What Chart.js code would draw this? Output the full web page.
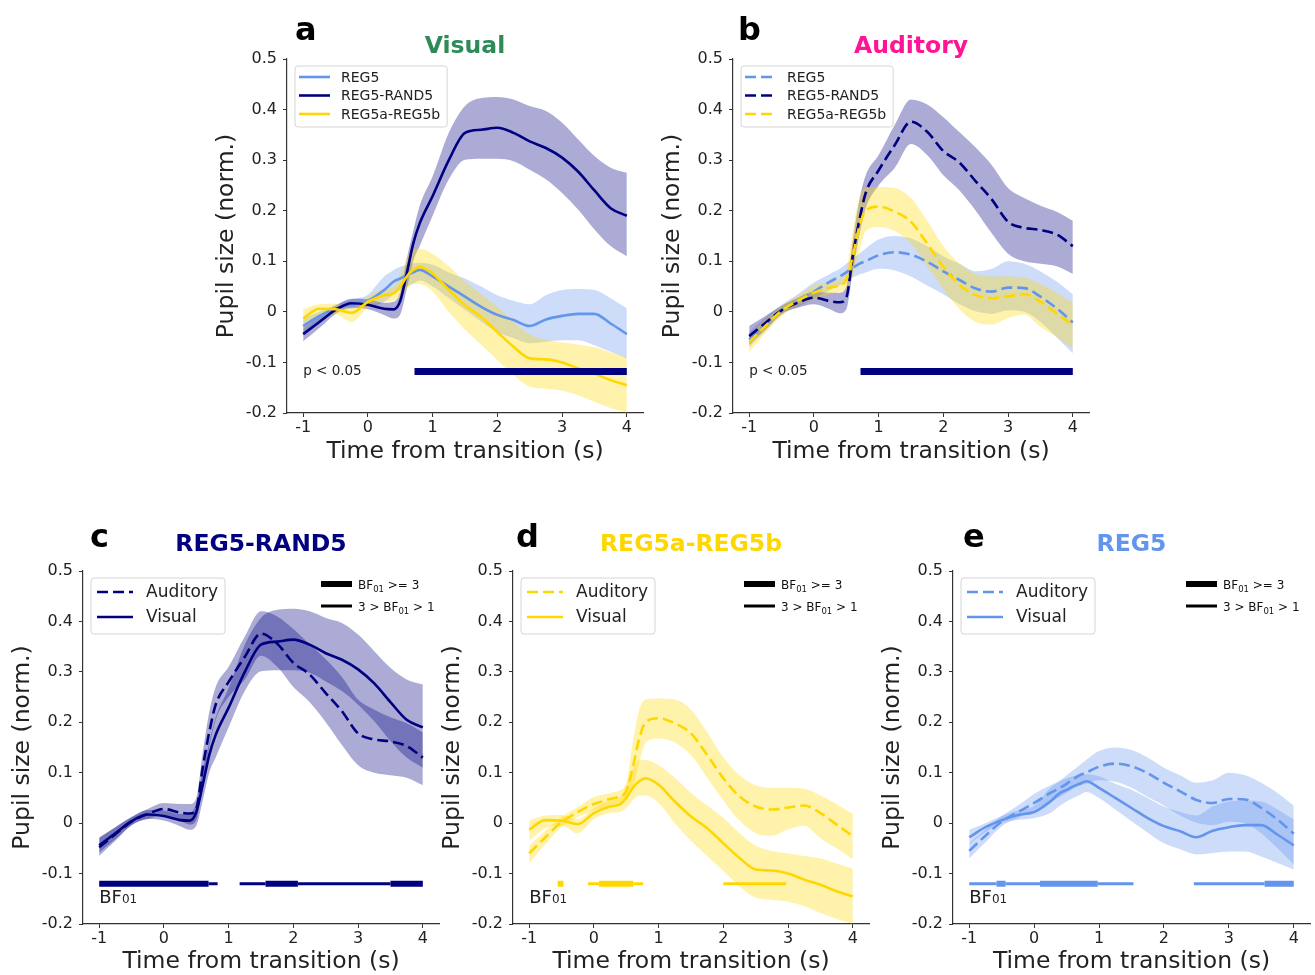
<!DOCTYPE html>
<html>
<head>
  <meta charset="UTF-8">
  <script src="https://cdn.jsdelivr.net/npm/chart.js@4.4.0/dist/chart.umd.min.js"></script>
  <style>
    html, body { margin: 0; padding: 0; background: #fff; overflow: hidden; }
    .panel { position: absolute; }
  </style>
</head>
<body>
<canvas id="panelA" class="panel"></canvas>
<canvas id="panelB" class="panel"></canvas>
<canvas id="panelC" class="panel"></canvas>
<canvas id="panelD" class="panel"></canvas>
<canvas id="panelE" class="panel"></canvas>
<script>
// time from transition (s), shared by all traces
const timeSec = [-1, -0.75, -0.5, -0.25, 0, 0.25, 0.4, 0.5, 0.6, 0.7, 0.8, 1, 1.25, 1.5, 1.75, 2, 2.25, 2.5, 2.75, 3, 3.25, 3.5, 3.75, 4];

// visual condition: mean and band edges
const visReg5   = [-0.028, -0.008, 0.006, 0.016, 0.022, 0.043, 0.06, 0.066, 0.073, 0.078, 0.083, 0.07, 0.05, 0.03, 0.01, -0.006, -0.016, -0.028, -0.015, -0.008, -0.004, -0.004, -0.023, -0.044];
const visReg5Hi = [-0.013, 0.0, 0.014, 0.025, 0.034, 0.07, 0.083, 0.089, 0.093, 0.096, 0.097, 0.093, 0.078, 0.066, 0.05, 0.033, 0.022, 0.015, 0.033, 0.043, 0.045, 0.043, 0.027, 0.007];
const visReg5Lo = [-0.042, -0.018, 0.0, 0.006, 0.01, 0.02, 0.035, 0.043, 0.05, 0.056, 0.062, 0.05, 0.027, 0.004, -0.019, -0.04, -0.052, -0.062, -0.059, -0.056, -0.056, -0.066, -0.079, -0.092];

const visRand   = [-0.044, -0.02, 0.004, 0.017, 0.014, 0.006, 0.005, 0.022, 0.076, 0.135, 0.175, 0.229, 0.3, 0.354, 0.36, 0.364, 0.354, 0.337, 0.324, 0.305, 0.277, 0.24, 0.205, 0.19];
const visRandHi = [-0.03, -0.008, 0.012, 0.026, 0.025, 0.018, 0.02, 0.04, 0.105, 0.16, 0.21, 0.268, 0.354, 0.407, 0.423, 0.425, 0.42, 0.407, 0.397, 0.374, 0.341, 0.308, 0.285, 0.275];
const visRandLo = [-0.058, -0.032, -0.004, 0.008, 0.005, -0.006, -0.013, -0.005, 0.045, 0.1, 0.13, 0.19, 0.262, 0.301, 0.303, 0.303, 0.298, 0.281, 0.262, 0.235, 0.202, 0.163, 0.13, 0.11];

const visAb   = [-0.013, 0.006, 0.005, -0.002, 0.02, 0.033, 0.037, 0.05, 0.07, 0.083, 0.089, 0.076, 0.043, 0.013, -0.01, -0.04, -0.069, -0.092, -0.094, -0.1, -0.112, -0.122, -0.135, -0.145];
const visAbHi = [0.005, 0.015, 0.016, 0.008, 0.03, 0.045, 0.05, 0.075, 0.105, 0.125, 0.125, 0.115, 0.09, 0.06, 0.035, 0.01, -0.02, -0.045, -0.055, -0.06, -0.065, -0.07, -0.08, -0.09];
const visAbLo = [-0.035, -0.01, -0.005, -0.02, 0.008, 0.02, 0.022, 0.03, 0.045, 0.055, 0.055, 0.04, 0.0, -0.035, -0.065, -0.095, -0.125, -0.148, -0.152, -0.156, -0.165, -0.178, -0.19, -0.2];

// auditory condition: mean and band edges
const audReg5   = [-0.055, -0.025, 0.003, 0.022, 0.04, 0.06, 0.07, 0.078, 0.087, 0.095, 0.1, 0.112, 0.118, 0.113, 0.099, 0.08, 0.063, 0.046, 0.04, 0.048, 0.047, 0.03, 0.007, -0.021];
const audReg5Hi = [-0.04, -0.012, 0.014, 0.035, 0.058, 0.075, 0.085, 0.095, 0.105, 0.115, 0.125, 0.143, 0.15, 0.145, 0.13, 0.11, 0.095, 0.08, 0.085, 0.1, 0.095, 0.08, 0.06, 0.035];
const audReg5Lo = [-0.07, -0.038, -0.006, 0.01, 0.026, 0.043, 0.052, 0.06, 0.068, 0.074, 0.078, 0.085, 0.082, 0.07, 0.052, 0.035, 0.015, 0.001, -0.004, 0.003, 0.0, -0.02, -0.05, -0.082];

const audRand   = [-0.048, -0.022, 0.003, 0.018, 0.028, 0.021, 0.019, 0.028, 0.11, 0.18, 0.235, 0.28, 0.33, 0.376, 0.356, 0.318, 0.295, 0.258, 0.222, 0.178, 0.166, 0.162, 0.153, 0.13];
const audRandHi = [-0.028, -0.008, 0.012, 0.028, 0.04, 0.038, 0.038, 0.05, 0.14, 0.22, 0.27, 0.31, 0.37, 0.42, 0.41, 0.385, 0.355, 0.325, 0.29, 0.245, 0.225, 0.21, 0.198, 0.18];
const audRandLo = [-0.065, -0.035, -0.004, 0.008, 0.015, 0.005, -0.003, 0.005, 0.08, 0.15, 0.205, 0.25, 0.285, 0.332, 0.31, 0.27, 0.24, 0.2, 0.155, 0.115, 0.1, 0.095, 0.09, 0.075];

const audAb   = [-0.06, -0.028, 0.002, 0.022, 0.038, 0.048, 0.053, 0.063, 0.11, 0.168, 0.2, 0.208, 0.198, 0.178, 0.135, 0.089, 0.053, 0.033, 0.027, 0.031, 0.035, 0.02, -0.003, -0.026];
const audAbHi = [-0.045, -0.015, 0.012, 0.032, 0.052, 0.06, 0.065, 0.08, 0.16, 0.225, 0.245, 0.247, 0.245, 0.225, 0.18, 0.13, 0.095, 0.075, 0.07, 0.07, 0.068, 0.055, 0.038, 0.018];
const audAbLo = [-0.08, -0.042, -0.008, 0.012, 0.025, 0.035, 0.04, 0.045, 0.07, 0.12, 0.16, 0.168, 0.16, 0.135, 0.09, 0.045, 0.005, -0.02, -0.025, -0.012, -0.005, -0.03, -0.05, -0.072];

// p < 0.05 stretches (s)
const sigVisual = [[0.72, 4.0]];
const sigAuditory = [[0.72, 4.0]];
const sigLevel = -0.118;

// Bayes factor stretches (s): thick = BF01 >= 3, thin = 3 > BF01 > 1
const bfThickRand = [[-1, 0.69], [1.57, 2.07], [3.5, 4.0]];
const bfThinRand  = [[0.69, 0.83], [1.17, 1.57], [2.07, 3.5]];
const bfThickAb = [[-0.56, -0.47], [0.08, 0.61]];
const bfThinAb  = [[-0.09, 0.08], [0.61, 0.76], [2.0, 2.97]];
const bfThickReg5 = [[-0.58, -0.44], [0.09, 0.98], [3.55, 4.0]];
const bfThinReg5  = [[-1, -0.58], [-0.44, 0.09], [0.98, 1.53], [2.46, 3.55]];
const bfLevel = -0.12;

const xTicks = [-1, 0, 1, 2, 3, 4];
const yTicks = [-0.2, -0.1, 0, 0.1, 0.2, 0.3, 0.4, 0.5];

const C_REG5 = '#6495ED';
const C_RAND = '#000080';
const C_AB = '#FFD700';
const BAND_ALPHA = 0.33;
const DASH = [11, 5];
const FONT = '"DejaVu Sans"';

Chart.defaults.font.family = 'DejaVu Sans';
Chart.defaults.color = '#222';

function fade(hex, a) {
  const n = parseInt(hex.slice(1), 16);
  return 'rgba(' + (n >> 16) + ',' + ((n >> 8) & 255) + ',' + (n & 255) + ',' + a + ')';
}

function pts(ys) {
  return timeSec.map((t, i) => ({x: t, y: ys[i]}));
}

function trace(ys, color, dashed) {
  return {data: pts(ys), borderColor: color, borderWidth: 2.6, borderDash: dashed ? DASH : [],
    pointRadius: 0, fill: false, cubicInterpolationMode: 'monotone'};
}

function band(lo, hi, color) {
  return [
    {data: pts(hi), borderWidth: 0, borderColor: 'transparent', pointRadius: 0,
      fill: '+1', backgroundColor: fade(color, BAND_ALPHA), cubicInterpolationMode: 'monotone'},
    {data: pts(lo), borderWidth: 0, borderColor: 'transparent', pointRadius: 0,
      fill: false, cubicInterpolationMode: 'monotone'}
  ];
}

function bars(list, level, color, width) {
  let d = [];
  list.forEach(s => { d.push({x: s[0], y: level}, {x: s[1], y: level}, {x: s[1], y: null}); });
  return {data: d, borderColor: color, borderWidth: width, pointRadius: 0, fill: false,
    spanGaps: false, borderCapStyle: 'butt'};
}

// draw text pieces one after another: [text, size, dy]
function richText(ctx, parts, x, y) {
  let cx = x;
  parts.forEach(([t, size, dy]) => {
    ctx.font = size + 'px ' + FONT;
    ctx.fillText(t, cx, y + dy);
    cx += ctx.measureText(t).width;
  });
  return cx - x;
}

function roundBox(ctx, x, y, w, h, r) {
  ctx.beginPath();
  ctx.moveTo(x + r, y);
  ctx.lineTo(x + w - r, y);
  ctx.arcTo(x + w, y, x + w, y + r, r);
  ctx.lineTo(x + w, y + h - r);
  ctx.arcTo(x + w, y + h, x + w - r, y + h, r);
  ctx.lineTo(x + r, y + h);
  ctx.arcTo(x, y + h, x, y + h - r, r);
  ctx.lineTo(x, y + r);
  ctx.arcTo(x, y, x + r, y, r);
  ctx.closePath();
}

const legSmall = {font: 14, pad: 4, lineLen: 31, gap: 11, right: 7, rowFirst: 11, rowGap: 18.5, height: 61};
const legLarge = {font: 17, pad: 6, lineLen: 36, gap: 13, right: 7, rowFirst: 14, rowGap: 25, height: 56};

function drawLegend(ctx, area, style, items) {
  ctx.save();
  ctx.font = style.font + 'px ' + FONT;
  let tw = 0;
  items.forEach(it => { tw = Math.max(tw, ctx.measureText(it.label).width); });
  const x0 = area.left + 8, y0 = area.top + 7;
  const w = style.pad + style.lineLen + style.gap + tw + style.right;
  roundBox(ctx, x0, y0, w, style.height, 3);
  ctx.fillStyle = 'rgba(255,255,255,0.8)';
  ctx.fill();
  ctx.strokeStyle = '#d6d6d6';
  ctx.lineWidth = 1;
  ctx.stroke();
  items.forEach((it, i) => {
    const y = y0 + style.rowFirst + i * style.rowGap;
    ctx.beginPath();
    ctx.setLineDash(it.dashed ? DASH : []);
    ctx.strokeStyle = it.color;
    ctx.lineWidth = 2.6;
    ctx.moveTo(x0 + style.pad, y);
    ctx.lineTo(x0 + style.pad + style.lineLen, y);
    ctx.stroke();
    ctx.setLineDash([]);
    ctx.fillStyle = '#222';
    ctx.textBaseline = 'middle';
    ctx.textAlign = 'left';
    ctx.fillText(it.label, x0 + style.pad + style.lineLen + style.gap, y + 1);
  });
  ctx.restore();
}

function drawBfKey(ctx, area, dx) {
  ctx.save();
  const x0 = area.right - dx;
  ctx.strokeStyle = '#000';
  ctx.fillStyle = '#111';
  ctx.textBaseline = 'alphabetic';
  ctx.textAlign = 'left';
  ctx.lineWidth = 6;
  ctx.beginPath(); ctx.moveTo(x0, area.top + 13); ctx.lineTo(x0 + 31, area.top + 13); ctx.stroke();
  ctx.lineWidth = 3;
  ctx.beginPath(); ctx.moveTo(x0, area.top + 35); ctx.lineTo(x0 + 31, area.top + 35); ctx.stroke();
  richText(ctx, [['BF', 12, 0], ['01', 8.5, 3], [' >= 3', 12, 0]], x0 + 37, area.top + 18);
  richText(ctx, [['3 > BF', 12, 0], ['01', 8.5, 3], [' > 1', 12, 0]], x0 + 37, area.top + 40);
  ctx.restore();
}

function decoPlugin(p) {
  return {
    id: 'deco' + p.letter,
    afterDatasetsDraw(chart) {
      const ctx = chart.ctx, area = chart.chartArea;
      const sx = chart.scales.x, sy = chart.scales.y;
      drawLegend(ctx, area, p.legendStyle, p.legend);
      ctx.save();
      ctx.fillStyle = '#222';
      ctx.textAlign = 'left';
      if (p.note) {
        ctx.font = '13.5px ' + FONT;
        ctx.textBaseline = 'middle';
        ctx.fillText(p.note, sx.getPixelForValue(-1), sy.getPixelForValue(sigLevel));
      }
      if (p.bfKeyDx) {
        ctx.textBaseline = 'alphabetic';
        richText(ctx, [['BF', 18, 0], ['01', 12, 0]], sx.getPixelForValue(-1), sy.getPixelForValue(-0.158));
        drawBfKey(ctx, area, p.bfKeyDx);
      }
      ctx.restore();
    },
    afterDraw(chart) {
      const ctx = chart.ctx, area = chart.chartArea;
      ctx.save();
      ctx.textBaseline = 'alphabetic';
      ctx.textAlign = 'left';
      ctx.fillStyle = '#000';
      ctx.font = 'bold 32px ' + FONT;
      ctx.fillText(p.letter, area.left + p.letterDx, area.top - p.letterDy);
      ctx.textAlign = 'center';
      ctx.fillStyle = p.titleColor;
      ctx.font = 'bold 23.5px ' + FONT;
      ctx.fillText(p.title, (area.left + area.right) / 2, area.top - p.titleDy);
      ctx.restore();
    }
  };
}

function makeChart(p, datasets) {
  const cv = document.getElementById(p.id);
  cv.width = p.width;
  cv.height = p.height;
  cv.style.left = p.left + 'px';
  cv.style.top = p.top + 'px';
  datasets.forEach((d, i) => { d.order = datasets.length - i; });
  const axisGrid = {drawOnChartArea: false, drawTicks: true, tickLength: 4, color: '#333', lineWidth: 1};
  const axisBorder = {display: true, color: '#333', width: 1.2};
  return new Chart(cv, {
    type: 'line',
    data: {datasets: datasets},
    options: {
      responsive: false,
      animation: false,
      events: [],
      layout: {padding: {top: p.area[1] - p.top, right: p.left + p.width - p.area[2], left: 0, bottom: 0}},
      plugins: {legend: {display: false}, tooltip: {enabled: false}},
      scales: {
        x: {
          type: 'linear', min: -1.25, max: 4.25,
          afterBuildTicks: s => { s.ticks = xTicks.map(v => ({value: v})); },
          afterFit: s => { s.height = p.top + p.height - p.area[3]; },
          grid: axisGrid, border: axisBorder,
          ticks: {font: {size: 16}, color: '#222', padding: 1, maxRotation: 0, autoSkip: false, callback: v => String(v)},
          title: {display: true, text: 'Time from transition (s)', color: '#222',
            font: {size: 23.5}, padding: {top: 0, bottom: p.xTitlePad}}
        },
        y: {
          type: 'linear', min: -0.2, max: 0.5,
          afterBuildTicks: s => { s.ticks = yTicks.map(v => ({value: v})); },
          afterFit: s => { s.width = p.area[0] - p.left; },
          grid: axisGrid, border: axisBorder,
          ticks: {font: {size: 16}, color: '#222', padding: 6,
            callback: v => (Math.abs(v) < 1e-9 ? '0' : v.toFixed(1))},
          title: {display: true, text: 'Pupil size (norm.)', color: '#222',
            font: {size: 23.5}, padding: {top: p.yTitlePad, bottom: 0}}
        }
      }
    },
    plugins: [decoPlugin(p)]
  });
}

// a: visual
makeChart({id: 'panelA', left: 190, top: 0, width: 470, height: 470, area: [287, 59, 643, 413],
  yTitlePad: 22.6, xTitlePad: 4.4, letter: 'a', letterDx: 8, letterDy: 19,
  title: 'Visual', titleColor: '#2E8B57', titleDy: 6, note: 'p < 0.05',
  legendStyle: legSmall,
  legend: [{label: 'REG5', color: C_REG5}, {label: 'REG5-RAND5', color: C_RAND}, {label: 'REG5a-REG5b', color: C_AB}]
}, [
  ...band(visReg5Lo, visReg5Hi, C_REG5), ...band(visRandLo, visRandHi, C_RAND), ...band(visAbLo, visAbHi, C_AB),
  trace(visReg5, C_REG5, false), trace(visRand, C_RAND, false), trace(visAb, C_AB, false),
  bars(sigVisual, sigLevel, C_RAND, 7)
]);

// b: auditory
makeChart({id: 'panelB', left: 640, top: 0, width: 470, height: 470, area: [733, 59, 1089, 413],
  yTitlePad: 18.9, xTitlePad: 4.4, letter: 'b', letterDx: 5, letterDy: 19,
  title: 'Auditory', titleColor: '#FF1493', titleDy: 6, note: 'p < 0.05',
  legendStyle: legSmall,
  legend: [{label: 'REG5', color: C_REG5, dashed: true}, {label: 'REG5-RAND5', color: C_RAND, dashed: true},
    {label: 'REG5a-REG5b', color: C_AB, dashed: true}]
}, [
  ...band(audReg5Lo, audReg5Hi, C_REG5), ...band(audRandLo, audRandHi, C_RAND), ...band(audAbLo, audAbHi, C_AB),
  trace(audReg5, C_REG5, true), trace(audRand, C_RAND, true), trace(audAb, C_AB, true),
  bars(sigAuditory, sigLevel, C_RAND, 7)
]);

// c, d, e: auditory vs visual per condition
const rowBottom = {top: 510, height: 468, xTitlePad: 1.9, letterDy: 24, titleDy: 20, legendStyle: legLarge};

makeChart(Object.assign({id: 'panelC', left: 0, width: 450, area: [83, 571, 439, 924],
  yTitlePad: 8.9, letter: 'c', letterDx: 7, title: 'REG5-RAND5', titleColor: C_RAND, bfKeyDx: 118,
  legend: [{label: 'Auditory', color: C_RAND, dashed: true}, {label: 'Visual', color: C_RAND}]
}, rowBottom), [
  ...band(audRandLo, audRandHi, C_RAND), ...band(visRandLo, visRandHi, C_RAND),
  trace(audRand, C_RAND, true), trace(visRand, C_RAND, false),
  bars(bfThickRand, bfLevel, C_RAND, 6), bars(bfThinRand, bfLevel, C_RAND, 3)
]);

makeChart(Object.assign({id: 'panelD', left: 435, width: 445, area: [513, 571, 869, 924],
  yTitlePad: 3.9, letter: 'd', letterDx: 3, title: 'REG5a-REG5b', titleColor: C_AB, bfKeyDx: 125,
  legend: [{label: 'Auditory', color: C_AB, dashed: true}, {label: 'Visual', color: C_AB}]
}, rowBottom), [
  ...band(audAbLo, audAbHi, C_AB), ...band(visAbLo, visAbHi, C_AB),
  trace(audAb, C_AB, true), trace(visAb, C_AB, false),
  bars(bfThickAb, bfLevel, C_AB, 6), bars(bfThinAb, bfLevel, C_AB, 3)
]);

makeChart(Object.assign({id: 'panelE', left: 875, width: 440, area: [953, 571, 1310, 924],
  yTitlePad: 3.9, letter: 'e', letterDx: 10, title: 'REG5', titleColor: C_REG5, bfKeyDx: 124,
  legend: [{label: 'Auditory', color: C_REG5, dashed: true}, {label: 'Visual', color: C_REG5}]
}, rowBottom), [
  ...band(audReg5Lo, audReg5Hi, C_REG5), ...band(visReg5Lo, visReg5Hi, C_REG5),
  trace(audReg5, C_REG5, true), trace(visReg5, C_REG5, false),
  bars(bfThickReg5, bfLevel, C_REG5, 6), bars(bfThinReg5, bfLevel, C_REG5, 3)
]);
</script>
</body>
</html>
